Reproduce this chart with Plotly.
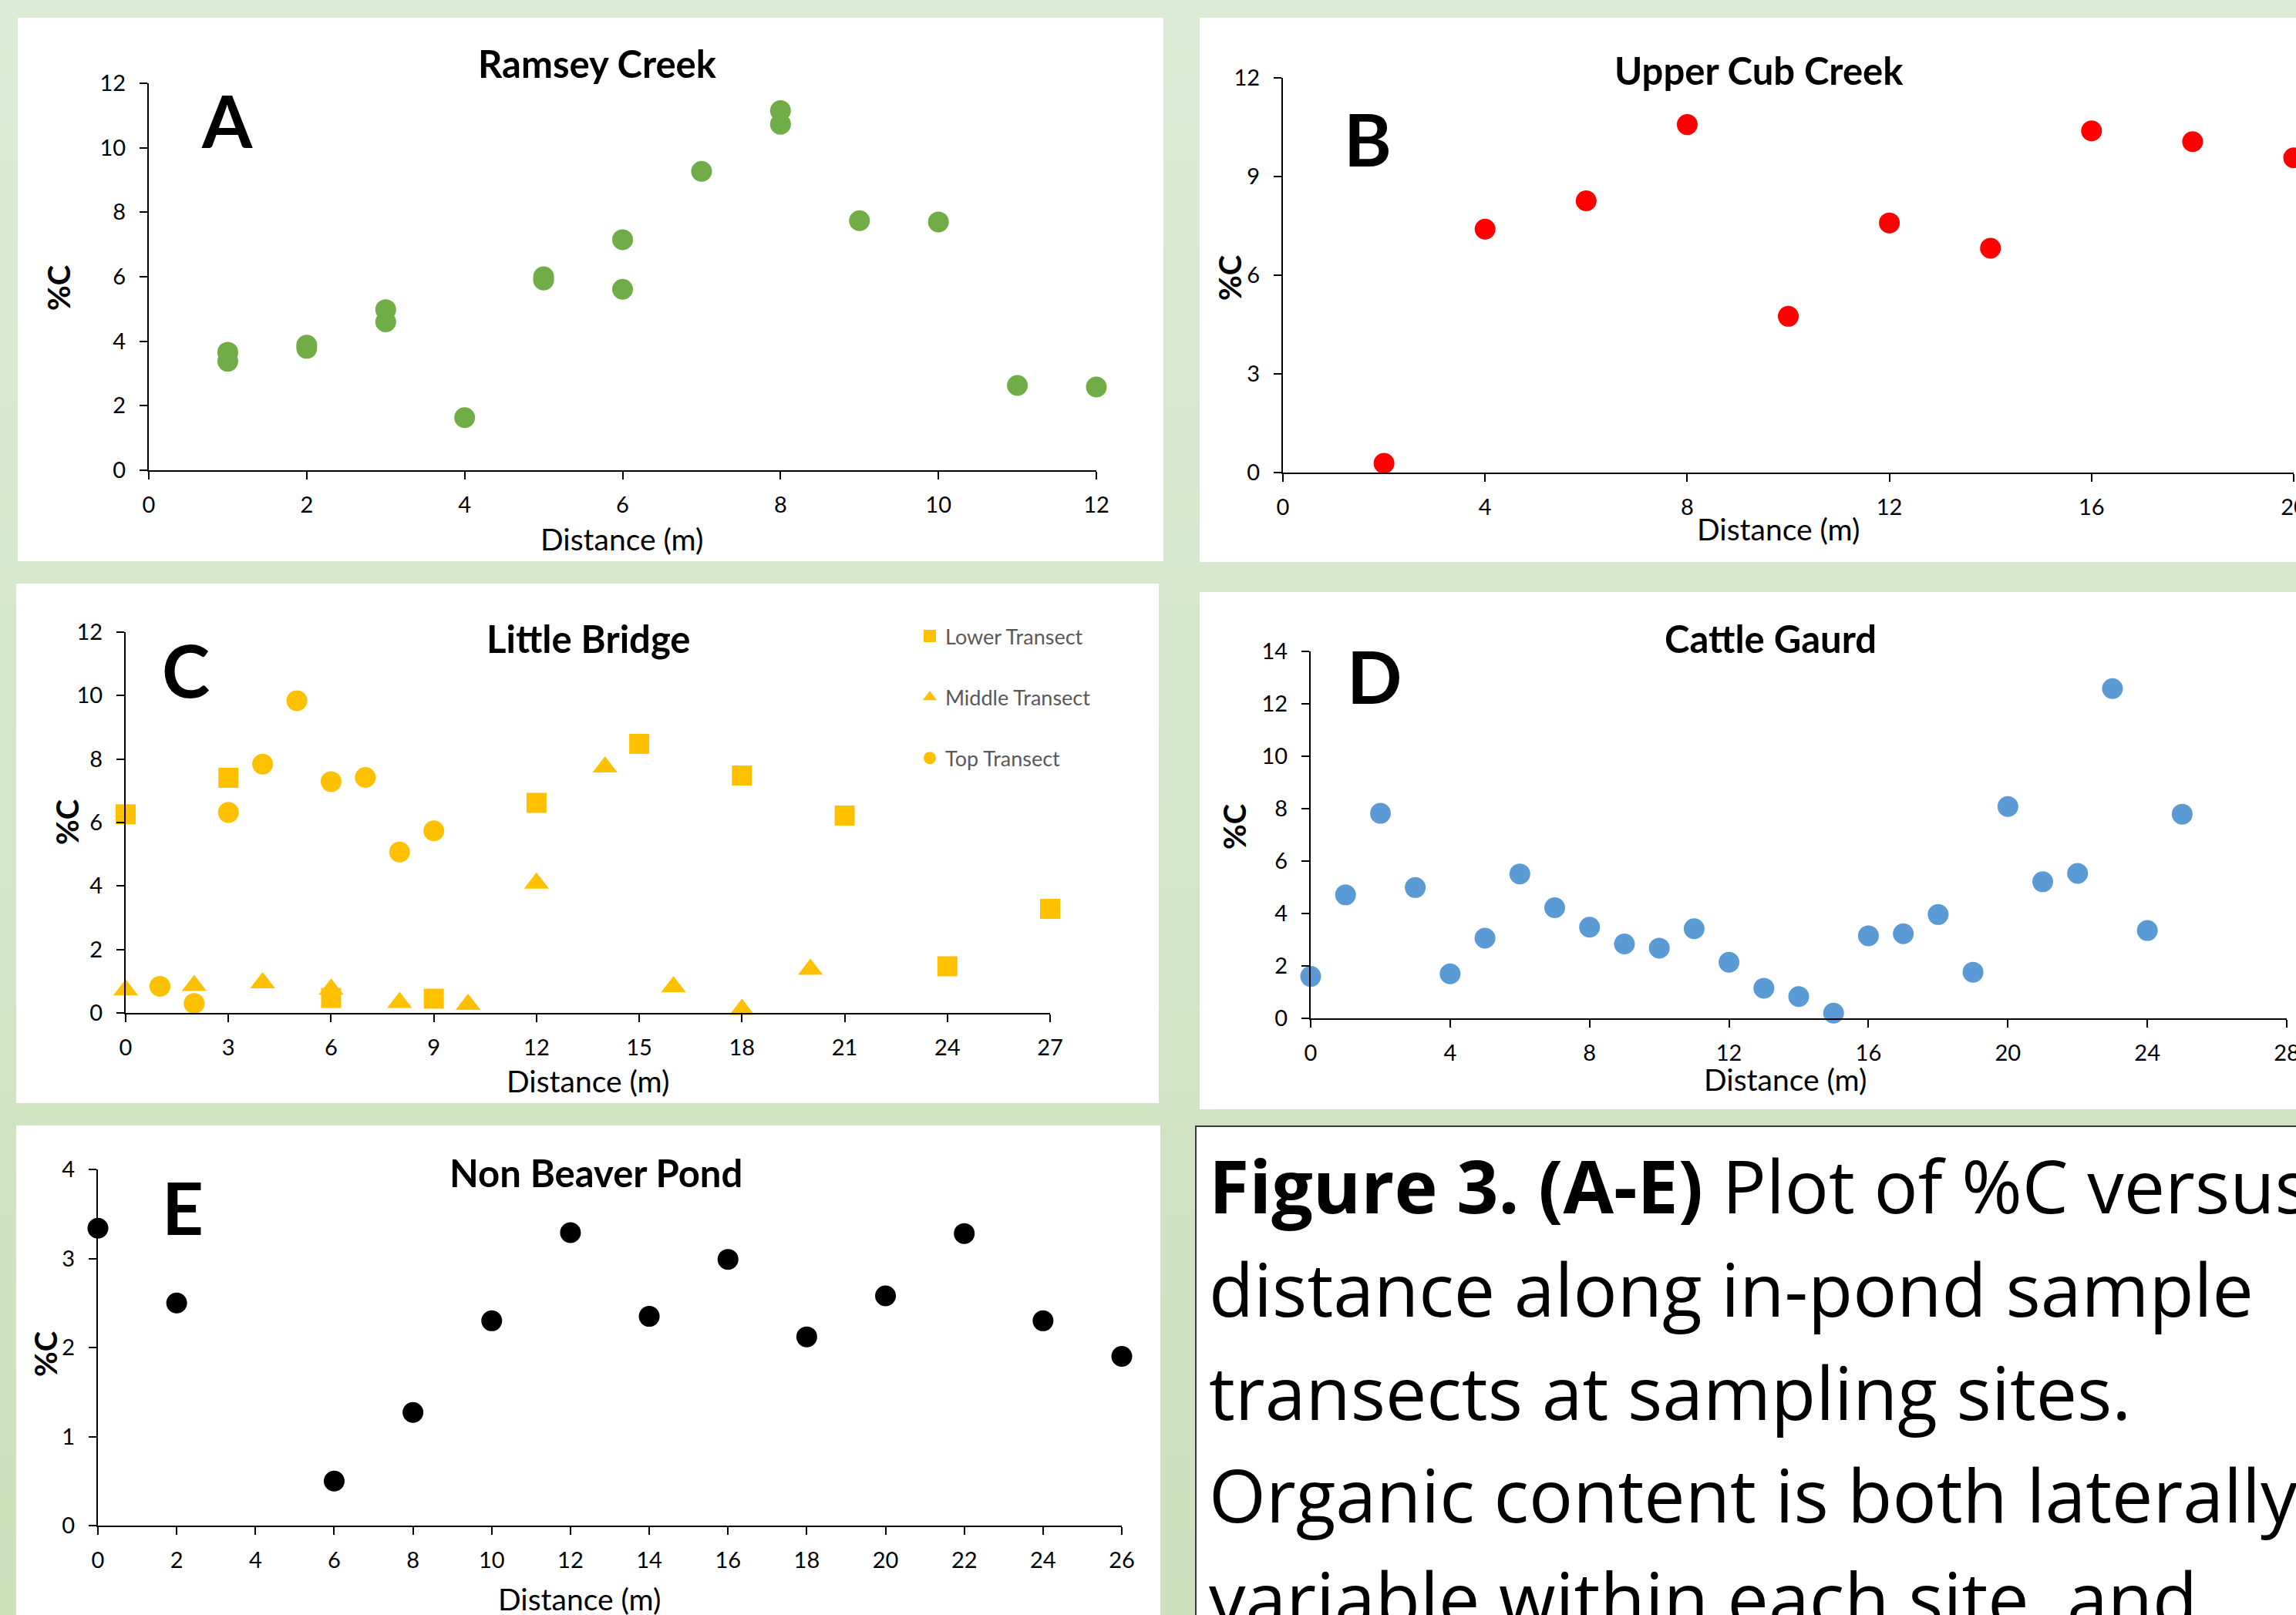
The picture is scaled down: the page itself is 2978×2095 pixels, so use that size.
import plotly.graph_objects as go

W, H = 2978, 2095

# ---------------- data ----------------
# A: Ramsey Creek
a_x = [1, 1, 2, 2, 3, 3, 4, 5, 5, 6, 6, 7, 8, 8, 9, 10, 11, 12]
a_y = [3.66, 3.38, 3.88, 3.78, 4.98, 4.60, 1.63, 6.00, 5.90, 7.15, 5.61, 9.27, 11.15, 10.73, 7.74, 7.70, 2.63, 2.58]

# B: Upper Cub Creek
b_x = [2, 4, 6, 8, 10, 12, 14, 16, 18, 20]
b_y = [0.28, 7.40, 8.26, 10.58, 4.75, 7.59, 6.82, 10.39, 10.06, 9.57]

# C: Little Bridge
c_lower_x = [0, 3, 6, 9, 12, 15, 18, 21, 24, 27]
c_lower_y = [6.26, 7.41, 0.47, 0.45, 6.62, 8.48, 7.48, 6.22, 1.47, 3.28]
c_middle_x = [0, 2, 4, 6, 8, 10, 12, 14, 16, 18, 20]
c_middle_y = [0.72, 0.86, 0.95, 0.75, 0.33, 0.27, 4.09, 7.75, 0.82, 0.11, 1.37]
c_top_x = [1, 2, 3, 4, 5, 6, 7, 8, 9]
c_top_y = [0.84, 0.30, 6.32, 7.84, 9.84, 7.29, 7.42, 5.07, 5.74]

# D: Cattle Gaurd
d_x = list(range(0, 26))
d_y = [1.60, 4.71, 7.82, 4.99, 1.70, 3.06, 5.51, 4.22, 3.48, 2.84, 2.68, 3.42, 2.14,
       1.15, 0.83, 0.20, 3.15, 3.23, 3.96, 1.76, 8.08, 5.21, 5.53, 12.58, 3.35, 7.79]

# E: Non Beaver Pond
e_x = [0, 2, 6, 8, 10, 12, 14, 16, 18, 20, 22, 24, 26]
e_y = [3.34, 2.50, 0.50, 1.27, 2.30, 3.29, 2.35, 2.99, 2.12, 2.58, 3.28, 2.30, 1.90]

# tick values
a_xticks = [0, 2, 4, 6, 8, 10, 12]
a_yticks = [0, 2, 4, 6, 8, 10, 12]
b_xticks = [0, 4, 8, 12, 16, 20]
b_yticks = [0, 3, 6, 9, 12]
c_xticks = [0, 3, 6, 9, 12, 15, 18, 21, 24, 27]
c_yticks = [0, 2, 4, 6, 8, 10, 12]
d_xticks = [0, 4, 8, 12, 16, 20, 24, 28]
d_yticks = [0, 2, 4, 6, 8, 10, 12, 14]
e_xticks = [0, 2, 4, 6, 8, 10, 12, 14, 16, 18, 20, 22, 24, 26]
e_yticks = [0, 1, 2, 3, 4]

titles = ["Ramsey Creek", "Upper Cub Creek", "Little Bridge", "Cattle Gaurd", "Non Beaver Pond"]
letters = ["A", "B", "C", "D", "E"]
caption_lines = [
    "<b>Figure 3. (A-E)</b> Plot of %C versus",
    "distance along in-pond sample",
    "transects at sampling sites.",
    "Organic content is both laterally",
    "variable within each site, and",
]

# ---------------- helpers ----------------
def px(x):
    return x / W

def py(y):
    return 1 - y / H

FONT = "Lato"

fig = go.Figure()

# background gradient (bands) and white panels
top_c = (0xDC, 0xEB, 0xD5)
bot_c = (0xCB, 0xE1, 0xBC)
nb = 40
shapes = []
for i in range(nb):
    t = i / (nb - 1)
    c = tuple(round(top_c[k] + (bot_c[k] - top_c[k]) * t) for k in range(3))
    shapes.append(dict(type="rect", xref="paper", yref="paper", layer="below",
                       x0=0, x1=1, y0=py(H * (i + 1) / nb + 1), y1=py(H * i / nb),
                       fillcolor="rgb(%d,%d,%d)" % c, line=dict(width=0)))

panels = [(23, 23, 1509, 728), (1556, 23, 2990, 729), (21, 757, 1503, 1431),
          (1556, 768, 2990, 1439), (21, 1460, 1505, 2100)]
for (x0, y0, x1, y1) in panels:
    shapes.append(dict(type="rect", xref="paper", yref="paper", layer="below",
                       x0=px(x0), x1=px(x1), y0=py(y1), y1=py(y0),
                       fillcolor="white", line=dict(width=0)))
# caption box
shapes.append(dict(type="rect", xref="paper", yref="paper", layer="below",
                   x0=px(1553), x1=px(2995), y0=py(2110), y1=py(1463),
                   fillcolor="rgba(0,0,0,0.25)", line=dict(width=0)))
shapes.append(dict(type="rect", xref="paper", yref="paper", layer="below",
                   x0=px(1551), x1=px(2995), y0=py(2110), y1=py(1461),
                   fillcolor="white", line=dict(width=2, color="#3a3a3a")))

# subplot geometry (pixel positions of axis ranges)
geo = {
    1: dict(x=(193, 1422), y=(610, 108), xr=[0, 12], yr=[0, 12], xt=a_xticks, yt=a_yticks),
    2: dict(x=(1664, 2975), y=(613, 101), xr=[0, 20], yr=[0, 12], xt=b_xticks, yt=b_yticks),
    3: dict(x=(163, 1362), y=(1314, 820), xr=[0, 27], yr=[0, 12], xt=c_xticks, yt=c_yticks),
    4: dict(x=(1700, 2966), y=(1321, 845), xr=[0, 28], yr=[0, 14], xt=d_xticks, yt=d_yticks),
    5: dict(x=(127, 1455), y=(1979, 1517), xr=[0, 26], yr=[0, 4], xt=e_xticks, yt=e_yticks),
}

layout_axes = {}
for i, g in geo.items():
    sfx = "" if i == 1 else str(i)
    common = dict(showline=True, linecolor="black", linewidth=2, ticks="outside",
                  ticklen=10, tickwidth=2, tickcolor="black", showgrid=False,
                  zeroline=False, tickfont=dict(family=FONT, size=29, color="black"),
                  fixedrange=True, automargin=False, ticklabeloverflow="allow")
    layout_axes["xaxis" + sfx] = dict(common, domain=[px(g["x"][0]), px(g["x"][1])],
                                      range=g["xr"], tickvals=g["xt"],
                                      anchor="y" + sfx, ticklabelstandoff=8)
    layout_axes["yaxis" + sfx] = dict(common, domain=[py(g["y"][0]), py(g["y"][1])],
                                      range=g["yr"], tickvals=g["yt"],
                                      anchor="x" + sfx, ticklabelstandoff=12)

def add(x, y, color, i, symbol="circle", name=None, size=27):
    sfx = "" if i == 1 else str(i)
    fig.add_trace(go.Scatter(x=x, y=y, mode="markers", name=name,
                             marker=dict(color=color, size=size, symbol=symbol, line=dict(width=0)),
                             xaxis="x" + sfx, yaxis="y" + sfx, cliponaxis=False,
                             showlegend=name is not None,
                             legendgroup=name if name else None))

add(a_x, a_y, "#70AD47", 1)
add(b_x, b_y, "#FF0000", 2)
add(c_lower_x, c_lower_y, "#FFC000", 3, "square", "Lower Transect", 26)
add(c_middle_x, c_middle_y, "#FFC000", 3, "triangle-up", "Middle Transect", 28)
add(c_top_x, c_top_y, "#FFC000", 3, "circle", "Top Transect", 27)
add(d_x, d_y, "#5B9BD5", 4)
add(e_x, e_y, "#000000", 5)

ann = []
def text(x, y, s, size, bold=False, angle=0, xanchor="center", color="black", family=FONT):
    ann.append(dict(x=px(x), y=py(y), xref="paper", yref="paper", text=s, showarrow=False,
                    xanchor=xanchor, yanchor="middle", textangle=angle,
                    font=dict(family=family, size=size, color=color,
                              weight="bold" if bold else "normal")))

title_pos = [(775, 82), (2281, 91), (763, 828), (2296, 828), (773, 1521)]
letter_pos = [(294, 156), (1774, 179), (241, 868), (1783, 876), (237, 1565)]
ylab_pos = [(76, 374), (1595, 361), (87, 1067), (1601, 1073), (59, 1757)]
xlab_pos = [(807, 699), (2306, 686), (762, 1402), (2315, 1400), (752, 2074)]
for k in range(5):
    text(*title_pos[k], titles[k], 49, bold=True)
    text(*letter_pos[k], letters[k], 94, bold=True)
    text(*ylab_pos[k], "%C", 40, bold=True, angle=-90)
    text(*xlab_pos[k], "Distance (m)", 39)

cap_y = [1537, 1671, 1805, 1938, 2072]
for s, yy in zip(caption_lines, cap_y):
    text(1566, yy, s, 95, xanchor="left", family="Open Sans")

fig.update_layout(
    template="none",
    width=W, height=H, margin=dict(l=0, r=0, t=0, b=0, pad=0, autoexpand=False),
    paper_bgcolor="#d5e6cb", plot_bgcolor="rgba(0,0,0,0)",
    shapes=shapes, annotations=ann,
    showlegend=True,
    legend=dict(x=px(1186), y=py(801), xanchor="left", yanchor="top",
                font=dict(family=FONT, size=27, color="#595959"),
                bgcolor="rgba(0,0,0,0)", tracegroupgap=41, itemwidth=30,
                traceorder="grouped"),
    **layout_axes,
)

fig.write_html("out.html",
               config={"displayModeBar": False},
               post_script="document.body.style.margin='0px';"
                           "document.body.style.overflow='hidden';")
